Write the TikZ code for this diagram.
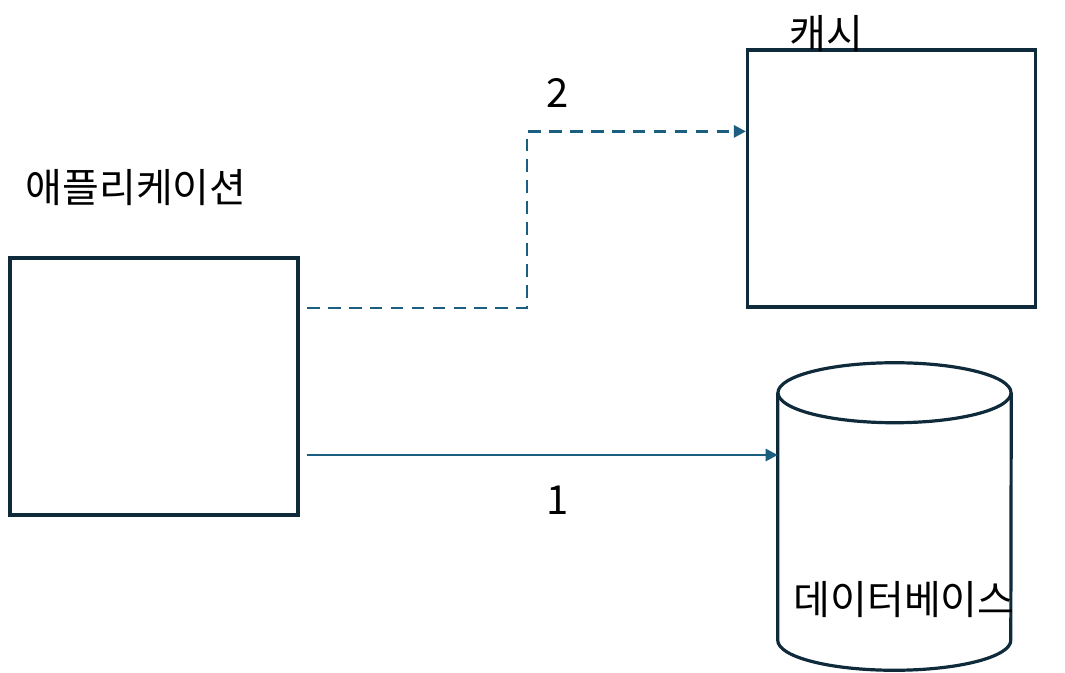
\documentclass[tikz,border=0pt]{standalone}
\usepackage{fontspec}
\setmainfont{Noto Sans CJK KR}
\usepackage{tikz}
\usetikzlibrary{positioning,arrows.meta,calc}
\usepackage{xcolor}
\definecolor{boxline}{HTML}{0E2A3B}
\definecolor{flowline}{HTML}{1B5E80}

\begin{document}
\begin{tikzpicture}[x=0.75pt,y=-0.75pt,
  box/.style={draw=boxline,line width=2.4pt,minimum width=216pt,minimum height=192.75pt,inner sep=0pt},
  dbbody/.style={minimum width=174.75pt,minimum height=185.25pt,inner sep=0pt},
  lbl/.style={font=\fontsize{30}{33}\selectfont,inner sep=0pt},
  flow/.style={draw=flowline,line width=2pt,-{Triangle[length=9pt,width=9pt]}},
  dashflow/.style={flow,dash pattern=on 9.5pt off 6.2pt}]
\useasboundingbox (0,0) rectangle (1065,672);
% boxes
\node[box] (app) at (154,386.5) {};
\node[box] (cache) at (891.5,178.5) {};
\node[dbbody] (db) at (894.5,516.5) {};
\draw[boxline,line width=2.4pt] (db.north) ellipse [x radius=87.4pt,y radius=22.5pt];
\draw[boxline,line width=2.4pt] (db.north west) -- (db.south west)
  arc[start angle=180,end angle=360,x radius=87.4pt,y radius=22.5pt] -- (db.north east);
% labels
\node[lbl] (applabel) at (136,188) {애플리케이션};
\node[lbl] (cachelabel) at (826,34) {캐시};
\node[lbl] (dblabel) at (904,600) {데이터베이스};
% connectors
\coordinate (s1) at (307,455);
\coordinate (s2) at (307,308);
\draw[flow] (s1) -- (s1 -| db.west);
\node[lbl] (one) at (558,500) {1};
\draw[dashflow] (s2) -- ++(220,0) |- ($(cache.north west)+(0,83)$);
\node[lbl] (two) at (558,93) {2};
\end{tikzpicture}
\end{document}
